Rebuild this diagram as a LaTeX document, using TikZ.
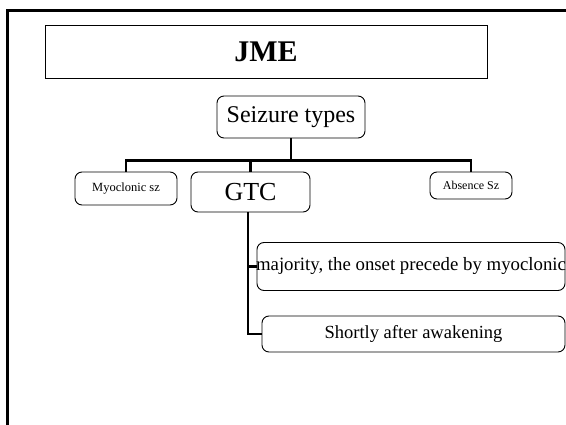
\documentclass[tikz,border=0pt]{standalone}
\usepackage{fontspec}
\setmainfont{Liberation Serif}
\begin{document}
\begin{tikzpicture}[x=1pt,y=-1pt,
  box/.style={draw=black, line width=0.9pt, rounded corners=7pt, inner sep=0pt, align=center},
  link/.style={draw=black, line width=2.2pt}]
\useasboundingbox (0,0) rectangle (566,425);
\clip (0,0) rectangle (566,425);
% slide frame
\draw[line width=2.6pt] (7.3,440) -- (7.3,10.3) -- (580,10.3);
% title
\node[draw=black, line width=0.9pt, minimum width=442pt, minimum height=53pt, inner sep=0pt]
  (title) at (266,51.5) {\fontsize{30}{34}\selectfont\bfseries JME};
% boxes
\node[box, minimum width=148pt, minimum height=42pt] (seiz) at (291,117)
  {\fontsize{24}{28}\selectfont Seizure types};
\node[box, minimum width=102pt, minimum height=33pt] (myo) at (126,188.5)
  {\fontsize{12.5}{15}\selectfont Myoclonic sz};
\node[box, minimum width=119pt, minimum height=40pt] (gtc) at (250.5,192)
  {\fontsize{26}{30}\selectfont GTC};
\node[box, minimum width=82pt, minimum height=27pt] (abs) at (471,185.5)
  {\fontsize{12}{14}\selectfont Absence Sz};
\node[box, minimum width=308pt, minimum height=48pt] (maj) at (411,266.5) {};
\node (majtext) at (maj.center)
  {\fontsize{18.8}{22}\selectfont majority, the onset precede by myoclonic};
\node[box, minimum width=303pt, minimum height=36pt] (sht) at (413.5,334)
  {\fontsize{18.5}{22}\selectfont Shortly after awakening};
% connectors
\draw[link] (seiz.south) -- ++(0,22) coordinate (bar);
\draw[link] (myo.north) |- (bar) -| (abs.north);
\draw[link] (gtc.north) -- (gtc.north |- bar);
\draw[link] ([xshift=-2.5pt]gtc.south) |- (maj.west);
\draw[link] ([xshift=-2.5pt]gtc.south) |- (sht.west);
\end{tikzpicture}
\end{document}
